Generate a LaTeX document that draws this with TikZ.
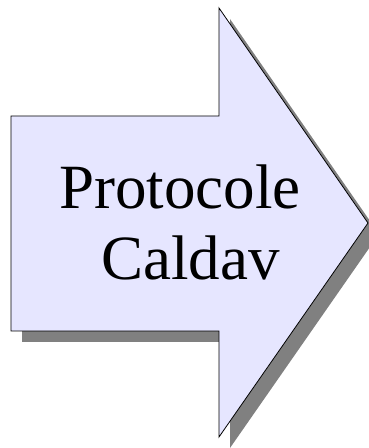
\documentclass[tikz,border=0pt]{standalone}
\usepackage{fontspec}
\setmainfont{Liberation Serif}
\usepackage{xcolor}
\definecolor{arrow-fill}{HTML}{E6E6FF}
\definecolor{arrow-shadow}{HTML}{808080}

\begin{document}
\begin{tikzpicture}[x=1pt, y=1pt,
        every node/.style={font=\fontsize{63}{75}\selectfont, inner sep=0pt}]
      \useasboundingbox (0,0) rectangle (369,448);
      \clip (0,0) rectangle (369,448);
      % shadow first, then the arrow on top
      \fill[arrow-shadow] (22,321) -- (230,321) -- (230,429) -- (379,214)
            -- (230,0) -- (230,106) -- (22,106) -- cycle;
      \filldraw[fill=arrow-fill, draw=black, line width=0.8pt, line join=miter]
            (11,332) -- (219,332) -- (219,440) -- (368,225)
            -- (219,11) -- (219,117) -- (11,117) -- cycle;
      \node[anchor=base west] (proto) at (59,239) {Protocole};
      \node[anchor=base west] (caldav) at (101,168) {Caldav};
    \end{tikzpicture}
\end{document}
